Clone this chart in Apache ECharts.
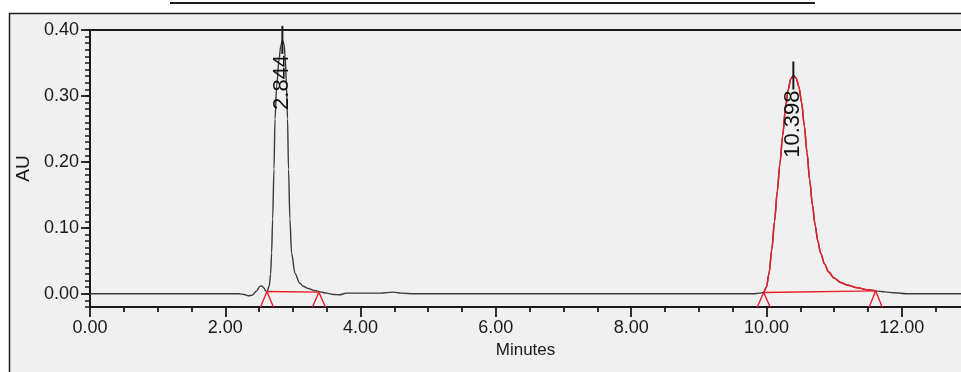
<!DOCTYPE html>
<html><head><meta charset="utf-8">
<script src="https://cdn.jsdelivr.net/npm/echarts@6/dist/echarts.min.js"></script>
<style>html,body{margin:0;padding:0;background:#fff;}#c{width:961px;height:372px;}</style>
</head><body><div id="c"></div>
<script>
// Chromatogram trace (minutes, AU)
const timeMin = [0.00,0.50,1.00,1.50,2.00,2.20,2.28,2.34,2.40,2.46,2.51,2.54,2.57,2.60,2.62,2.65,2.67,2.685,2.70,2.72,2.735,2.76,2.795,2.82,2.845,2.87,2.885,2.905,2.92,2.935,2.955,2.98,3.03,3.10,3.16,3.23,3.32,3.40,3.50,3.60,3.69,3.79,3.90,4.10,4.30,4.48,4.60,4.80,5.50,6.50,7.50,8.50,9.50,9.80,9.90,9.96,10.00,10.04,10.08,10.12,10.16,10.20,10.24,10.28,10.32,10.36,10.40,10.44,10.48,10.52,10.56,10.60,10.64,10.68,10.72,10.76,10.80,10.86,10.92,11.00,11.10,11.20,11.35,11.50,11.615,11.75,11.90,12.07,12.50,13.00];
const absAU   = [0.000,0.000,0.000,0.000,0.000,0.000,-0.001,-0.003,-0.002,0.004,0.011,0.012,0.009,0.004,0.004,0.012,0.030,0.062,0.113,0.189,0.265,0.315,0.356,0.376,0.385,0.378,0.360,0.315,0.265,0.189,0.113,0.062,0.031,0.016,0.011,0.008,0.005,0.003,0.001,-0.001,-0.0015,0.001,0.001,0.001,0.001,0.0025,0.001,0.000,0.000,0.000,0.000,0.000,0.000,0.000,0.001,0.002,0.010,0.032,0.068,0.110,0.155,0.198,0.240,0.280,0.309,0.326,0.331,0.327,0.314,0.290,0.255,0.214,0.172,0.135,0.104,0.080,0.062,0.045,0.033,0.024,0.017,0.013,0.009,0.006,0.0045,0.003,0.0015,0.000,0.000,0.000];
// Peak labels (retention times) and apex heights
const peakRT = [2.844, 10.398];
const peakApexAU = [0.385, 0.331];
// Integration events: peak start/end times and baseline levels
const eventTimes = [2.616, 3.384, 9.96, 11.615];
const eventAU = [0.0035, 0.0025, 0.002, 0.0045];
const integratedRange = [9.96, 11.615];
// Tick labels
const xMajorTicks = [0, 2, 4, 6, 8, 10, 12];
const yMajorTicks = [0, 0.1, 0.2, 0.3, 0.4];

const Y_MIN = -0.02, Y_MAX = 0.40, X_MIN = 0, X_MAX = 14;
const ink = '#1a1a1a', red = '#ee1c25', traceCol = '#3a3a3a';
const font = 'Liberation Sans, Arial, sans-serif';

const trace = timeMin.map((t, i) => [t, absAU[i]]);
const redTrace = trace.filter(p => p[0] >= integratedRange[0] - 1e-9 && p[0] <= integratedRange[1] + 1e-9);

const series = [
  {type: 'line', data: trace, symbol: 'none', smooth: 0.3, smoothMonotone: 'x',
   lineStyle: {color: traceCol, width: 1.4}, z: 2, silent: true},
  {type: 'line', data: redTrace, symbol: 'none', smooth: 0.3, smoothMonotone: 'x',
   lineStyle: {color: red, width: 1.5}, z: 3, silent: true}
];
for (let k = 0; k < eventTimes.length; k += 2) {
  series.push({type: 'line', symbol: 'none', z: 3, silent: true,
    data: [[eventTimes[k], eventAU[k]], [eventTimes[k + 1], eventAU[k + 1]]],
    lineStyle: {color: red, width: 1.4}});
}
const halfW = 0.095;
eventTimes.forEach((t, i) => {
  series.push({type: 'line', symbol: 'none', z: 3, silent: true,
    data: [[t - halfW, Y_MIN], [t, eventAU[i]], [t + halfW, Y_MIN]],
    lineStyle: {color: red, width: 1.4}});
});
series.push({
  type: 'scatter', z: 5, silent: true,
  data: peakRT.map((t, i) => [t, peakApexAU[i]]),
  symbol: 'rect', symbolSize: [2, 28], itemStyle: {color: ink, opacity: 1},
  label: {show: true, position: 'bottom', distance: 1, rotate: 90, align: 'right', verticalAlign: 'middle',
    formatter: p => p.value[0].toFixed(3), fontSize: 22, color: '#111', opacity: 1, fontFamily: font}
});

const chart = echarts.init(document.getElementById('c'), null, {renderer: 'canvas'});
chart.setOption({
  animation: false,
  backgroundColor: '#ffffff',
  graphic: [
    {type: 'rect', z: -10, silent: true, shape: {x: 9.5, y: 13.5, width: 1000, height: 400},
     style: {fill: '#f0f0f0', stroke: '#1e1e1e', lineWidth: 1.5}},
    {type: 'line', z: -10, silent: true, shape: {x1: 170, y1: 3, x2: 815, y2: 3},
     style: {stroke: '#1e1e1e', lineWidth: 2}}
  ],
  grid: {left: 90, top: 30, right: -76, bottom: 65, containLabel: false, outerBoundsMode: 'none',
    show: true, borderColor: ink, borderWidth: 2, backgroundColor: 'transparent'},
  xAxis: {
    type: 'value', min: X_MIN, max: X_MAX, interval: 2,
    name: 'Minutes', nameLocation: 'middle', nameGap: 33,
    nameTextStyle: {fontSize: 17, color: ink, fontFamily: font, padding: [0, 76, 0, 0]},
    axisLine: {show: true, onZero: false, lineStyle: {color: ink, width: 2}},
    axisTick: {show: true, length: 10, lineStyle: {color: ink, width: 1.8}},
    minorTick: {show: true, splitNumber: 4, length: 5, lineStyle: {color: ink, width: 1.8}},
    splitLine: {show: false}, minorSplitLine: {show: false},
    axisLabel: {margin: 12, fontSize: 18, color: ink, fontFamily: font,
      formatter: v => xMajorTicks.some(t => Math.abs(t - v) < 1e-6) ? v.toFixed(2) : ''}
  },
  yAxis: [
    {
      type: 'value', min: Y_MIN, max: Y_MAX, interval: 0.01,
      name: 'AU', nameLocation: 'middle', nameGap: 54,
      nameTextStyle: {fontSize: 19, color: ink, fontFamily: font},
      axisLine: {show: true, lineStyle: {color: ink, width: 2}},
      axisTick: {show: true, length: 5, interval: 0, lineStyle: {color: ink, width: 1.5}},
      splitLine: {show: false},
      axisLabel: {interval: 0, margin: 11, fontSize: 18, color: ink, fontFamily: font,
        formatter: v => yMajorTicks.some(t => Math.abs(t - v) < 1e-6) ? v.toFixed(2) : ''}
    },
    {
      type: 'value', min: Y_MIN, max: Y_MAX, position: 'left',
      axisLine: {show: false},
      axisTick: {show: true, length: 9, customValues: yMajorTicks, lineStyle: {color: ink, width: 1.8}},
      axisLabel: {show: false},
      splitLine: {show: false}
    }
  ],
  series: series
});
</script></body></html>
